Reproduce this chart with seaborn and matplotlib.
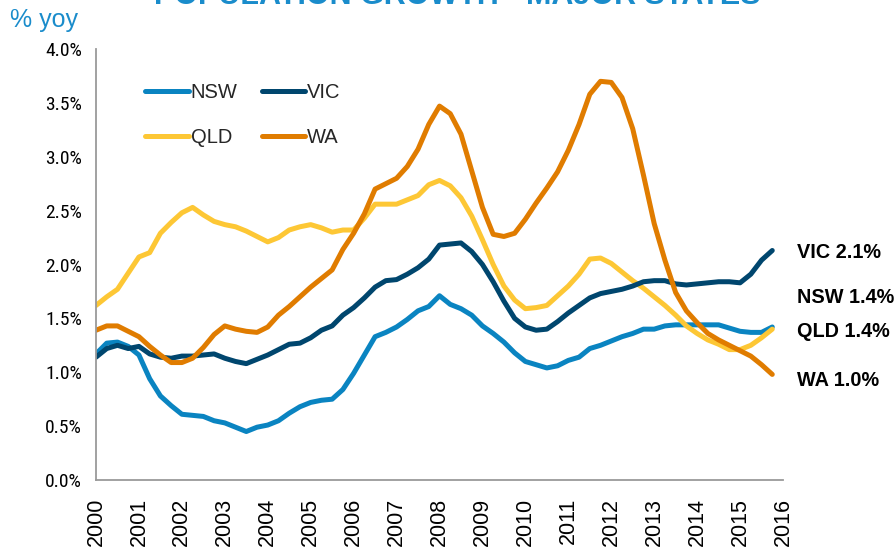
import numpy as np
import pandas as pd
import seaborn as sns
import matplotlib
matplotlib.use("Agg")
import matplotlib.pyplot as plt
from matplotlib import font_manager
from matplotlib.ticker import FuncFormatter
from matplotlib.lines import Line2D

# Quarterly population growth, % year on year, Q1 2000 to Q4 2015
start_year = 2000
nsw = [1.17, 1.27, 1.28, 1.24, 1.16, 0.94, 0.78, 0.69, 0.61, 0.60, 0.59, 0.55,
       0.53, 0.49, 0.45, 0.49, 0.51, 0.55, 0.62, 0.68, 0.72, 0.74, 0.75, 0.84,
       0.99, 1.16, 1.33, 1.37, 1.42, 1.49, 1.57, 1.61, 1.71, 1.63, 1.59, 1.53,
       1.43, 1.36, 1.28, 1.18, 1.10, 1.07, 1.04, 1.06, 1.11, 1.14, 1.22, 1.25,
       1.29, 1.33, 1.36, 1.40, 1.40, 1.43, 1.44, 1.44, 1.44, 1.44, 1.44, 1.41,
       1.38, 1.37, 1.37, 1.42]
vic = [1.14, 1.22, 1.25, 1.22, 1.24, 1.17, 1.14, 1.13, 1.15, 1.15, 1.16, 1.17,
       1.13, 1.10, 1.08, 1.12, 1.16, 1.21, 1.26, 1.27, 1.32, 1.39, 1.43, 1.53,
       1.60, 1.69, 1.79, 1.85, 1.86, 1.91, 1.97, 2.05, 2.18, 2.19, 2.20, 2.12,
       2.00, 1.84, 1.66, 1.50, 1.42, 1.39, 1.40, 1.47, 1.55, 1.62, 1.69, 1.73,
       1.75, 1.77, 1.80, 1.84, 1.85, 1.85, 1.82, 1.81, 1.82, 1.83, 1.84, 1.84,
       1.83, 1.91, 2.04, 2.13]
qld = [1.62, 1.70, 1.77, 1.92, 2.07, 2.11, 2.29, 2.39, 2.48, 2.53, 2.46, 2.40,
       2.37, 2.35, 2.31, 2.26, 2.21, 2.25, 2.32, 2.35, 2.37, 2.34, 2.30, 2.32,
       2.32, 2.43, 2.56, 2.56, 2.56, 2.60, 2.64, 2.74, 2.78, 2.73, 2.62, 2.45,
       2.23, 2.00, 1.80, 1.67, 1.59, 1.60, 1.62, 1.71, 1.80, 1.91, 2.05, 2.06,
       2.01, 1.93, 1.85, 1.78, 1.70, 1.62, 1.53, 1.43, 1.36, 1.30, 1.26, 1.21,
       1.21, 1.25, 1.32, 1.40]
wa = [1.39, 1.43, 1.43, 1.38, 1.33, 1.24, 1.16, 1.09, 1.09, 1.13, 1.23, 1.35,
      1.43, 1.40, 1.38, 1.37, 1.42, 1.53, 1.61, 1.70, 1.79, 1.87, 1.95, 2.14,
      2.29, 2.47, 2.70, 2.75, 2.80, 2.91, 3.07, 3.30, 3.47, 3.40, 3.21, 2.87,
      2.53, 2.28, 2.26, 2.29, 2.42, 2.57, 2.71, 2.86, 3.06, 3.30, 3.58, 3.70,
      3.69, 3.55, 3.26, 2.83, 2.38, 2.04, 1.74, 1.57, 1.46, 1.36, 1.30, 1.25,
      1.20, 1.15, 1.07, 0.98]

states = ["NSW", "VIC", "QLD", "WA"]
series = {"NSW": nsw, "VIC": vic, "QLD": qld, "WA": wa}
colors = {"NSW": "#0A84C1", "VIC": "#00466E", "QLD": "#FDC735", "WA": "#E07C00"}
year_ticks = list(range(2000, 2017))
y_ticks = [0.0, 0.5, 1.0, 1.5, 2.0, 2.5, 3.0, 3.5, 4.0]

# End-of-line label order and vertical placement (in % units)
end_label_order = ["VIC", "NSW", "QLD", "WA"]
end_label_y = [2.11, 1.69, 1.38, 0.92]

n = len(nsw)
quarters = start_year + np.arange(n) / 4.0
df = pd.concat(
    [pd.DataFrame({"date": quarters, "growth": series[s], "state": s}) for s in states],
    ignore_index=True,
)

sns.set_theme(style="white")
plt.rcParams["font.family"] = ["Liberation Sans", "DejaVu Sans"]

# Condensed face for the value axis, if one is available
installed = {f.name for f in font_manager.fontManager.ttflist}
narrow = ["Liberation Sans", "DejaVu Sans"]
for cand in ["Liberation Sans Narrow", "Arial Narrow", "Roboto Condensed", "DejaVu Sans Condensed"]:
    if cand in installed:
        narrow = [cand] + narrow
        break

fig = plt.figure(figsize=(8.94, 5.49), dpi=100)
ax = fig.add_axes([96 / 894, 69 / 549, 687 / 894, 431 / 549])

sns.lineplot(data=df, x="date", y="growth", hue="state", hue_order=["NSW", "QLD", "VIC", "WA"],
             palette=colors, linewidth=3.6, ax=ax, legend=False,
             solid_capstyle="round", solid_joinstyle="round")

ax.set_xlim(2000, 2016)
ax.set_ylim(0, 4.0)
ax.set_xticks(year_ticks)
ax.set_xticklabels([str(y) for y in year_ticks], rotation=90, fontsize=15.5)
ax.set_yticks(y_ticks)
ax.yaxis.set_major_formatter(FuncFormatter(lambda v, p: f"{v:.1f}%"))
for lab in ax.get_yticklabels():
    lab.set_family(narrow)
    lab.set_fontsize(14)
ax.set_xlabel("")
ax.set_ylabel("")

for side in ["top", "right"]:
    ax.spines[side].set_visible(False)
for side in ["left", "bottom"]:
    ax.spines[side].set_color("#9A9A9A")
    ax.spines[side].set_linewidth(1.3)
ax.tick_params(axis="both", which="major", direction="out", length=5, width=1.2,
               color="#9A9A9A", labelcolor="black", pad=5)
ax.tick_params(axis="x", pad=8)

# Legend in two columns: NSW / QLD on the left, VIC / WA on the right
handles = [Line2D([0], [0], color=colors[s], linewidth=3.6, solid_capstyle="round")
           for s in ["NSW", "QLD", "VIC", "WA"]]
ax.legend(handles, ["NSW", "QLD", "VIC", "WA"], ncol=2, loc="upper left",
          bbox_to_anchor=(0.06, 0.94), frameon=False, fontsize=14.5,
          handlelength=2.15, handletextpad=0.1, columnspacing=1.2,
          labelspacing=1.3, borderaxespad=0)

# End-of-line value labels
for s, ypos in zip(end_label_order, end_label_y):
    ax.text(2016.32, ypos, f"{s} {series[s][-1]:.1f}%", fontsize=14.3, fontweight="bold",
            color="black", va="center", ha="left", clip_on=False)

# Unit label and chart title
fig.text(10 / 894, 1 - 20 / 549, "% yoy", fontsize=18, color="#1A8CCB", va="center",
         ha="left")
fig.text(457 / 894, 1 - 4 / 549, "POPULATION GROWTH - MAJOR STATES", fontsize=22,
         fontweight="bold", color="#1A8CCB", ha="center", va="baseline")

fig.savefig("out.png", dpi=100)
